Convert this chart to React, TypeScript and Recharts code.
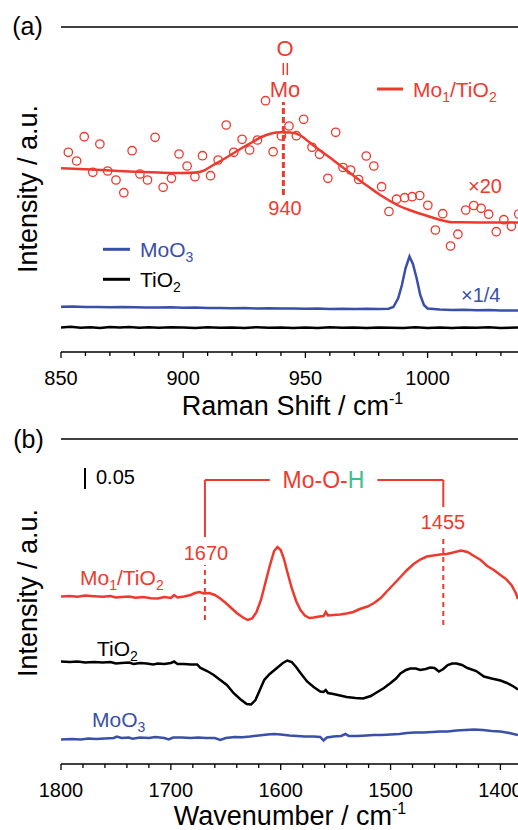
import React from 'react';
import { ComposedChart, Line, Scatter, XAxis, YAxis, ReferenceLine } from 'recharts';

const RED = '#ee3a2e';
const BLUE = '#3a50a8';
const GREEN = '#3dbe8e';
const FONT = '"Liberation Sans", Arial, Helvetica, sans-serif';

// ---- (a) Raman: [Raman shift (cm-1), intensity (a.u.)]
const ramanMo1Points = [
  [853.0, 199.7], [856.4, 191.0], [859.5, 215.3], [863.0, 179.7], [865.9, 208.0], [869.1, 181.0],
  [872.5, 172.0], [875.7, 159.3], [879.1, 201.3], [882.3, 178.0], [885.4, 172.0], [888.5, 214.7],
  [891.8, 164.7], [895.2, 173.7], [898.3, 198.0], [901.6, 186.0], [904.8, 175.3], [907.9, 196.3],
  [911.2, 176.3], [914.3, 192.0], [917.6, 227.0], [920.7, 199.7], [924.1, 212.7], [927.2, 202.0],
  [930.4, 212.0], [933.7, 251.3], [936.8, 200.3], [940.2, 216.0], [943.3, 226.0], [946.3, 216.3],
  [949.3, 232.7], [952.7, 204.7], [955.8, 197.7], [959.2, 173.7], [962.4, 219.7], [965.4, 184.5],
  [968.5, 182.0], [971.8, 172.5], [974.9, 196.0], [978.0, 186.0], [981.2, 165.3], [984.2, 140.5],
  [987.3, 152.8], [990.6, 154.3], [993.7, 155.3], [996.8, 156.5], [1000.1, 146.7], [1003.2, 122.0],
  [1006.2, 138.3], [1009.4, 106.0], [1012.4, 117.8], [1015.6, 142.0], [1018.9, 146.5], [1021.9, 143.7],
  [1025.0, 137.8], [1028.1, 120.3], [1031.2, 132.3], [1034.3, 125.7], [1037.3, 138.0],
];
const ramanMo1Fit = [
  [850, 183.7], [860, 182.7], [870, 181.5], [880, 180.3], [890, 179.5], [900, 179], [905, 179.5],
  [908, 181], [912, 186.5], [916, 192], [920, 198], [924, 204], [928, 209.5], [932, 215], [936, 218.5],
  [940, 219.8], [944, 219.5], [948, 216.5], [952, 209], [956, 201.5], [960, 194.5], [964, 187],
  [968, 179.5], [972, 172], [976, 165], [980, 158], [984, 152], [988, 146.5], [992, 142.5], [996, 139],
  [1000, 136], [1004, 133], [1008, 130.5], [1010, 129.8], [1020, 129.6], [1030, 129.5], [1037, 129.5],
];
const ramanMoO3 = [
  [850, 45.2], [855, 45.6], [860, 45.0], [865, 44.9], [870, 44.7], [875, 45.0], [880, 44.8], [885, 44.5],
  [890, 44.4], [895, 44.7], [900, 44.2], [905, 44.4], [910, 44.1], [915, 43.9], [920, 43.8], [925, 44.1],
  [930, 43.6], [935, 43.8], [940, 43.4], [945, 43.6], [950, 43.3], [955, 43.5], [960, 43.1], [965, 43.3],
  [970, 43.0], [975, 43.2], [980, 43.0], [984, 43.3], [986, 45], [988, 54], [989.5, 67], [991, 84],
  [992.6, 95.5], [994, 88], [995.5, 74], [997, 57], [998.5, 47], [1000, 43.5], [1005, 42.4], [1010, 42.0],
  [1015, 42.2], [1020, 41.8], [1025, 41.9], [1030, 41.6], [1037, 41.5],
];
const ramanTiO2 = [
  [850, 24.5], [854, 25.2], [858, 24.2], [862, 24.8], [866, 24.1], [870, 25.0], [874, 24.4], [878, 25.1],
  [882, 24.3], [886, 24.7], [890, 24.2], [895, 24.8], [900, 24.4], [905, 24.1], [910, 24.7], [915, 24.2],
  [920, 24.6], [925, 24.1], [930, 24.8], [935, 24.3], [940, 24.6], [945, 24.0], [950, 24.4], [955, 24.1],
  [960, 24.7], [965, 24.2], [970, 24.5], [975, 24.0], [980, 24.6], [985, 24.3], [990, 24.1], [995, 24.7],
  [1000, 24.0], [1005, 24.5], [1010, 24.1], [1015, 24.6], [1020, 24.2], [1025, 24.7], [1030, 24.1], [1037, 24.4],
];
const ramanTicks = [850, 860, 870, 880, 890, 900, 910, 920, 930, 940, 950, 960, 970, 980, 990, 1000, 1010, 1020, 1030];

// ---- (b) IR: [wavenumber (cm-1), intensity (a.u.)]
const irMo1 = [
  [1800, 167.5], [1792, 168], [1785, 167.2], [1778, 168.5], [1770, 167.8], [1762, 167.2], [1755, 168],
  [1750, 166.5], [1745, 167], [1738, 167.5], [1732, 166.2], [1725, 167], [1718, 165.8], [1712, 165.5],
  [1706, 167], [1700, 166], [1697, 169], [1694, 166.5], [1688, 167.5], [1682, 169], [1678, 171], [1674, 172],
  [1670, 170.5], [1665, 171], [1660, 169], [1655, 165.5], [1650, 161], [1645, 156], [1640, 151], [1635, 147],
  [1630, 144], [1626, 145.5], [1622, 152], [1618, 164], [1614, 181], [1610, 198], [1606, 213], [1603, 217],
  [1600, 214], [1597, 205], [1594, 192], [1590, 176], [1586, 163], [1582, 154], [1578, 148.5], [1574, 146],
  [1570, 146.5], [1565, 147.5], [1561, 148], [1559, 152], [1557, 148.5], [1552, 149], [1546, 149.5],
  [1540, 150.5], [1534, 152], [1528, 155], [1521, 157.5], [1515, 161], [1509, 166], [1503, 173], [1497, 180],
  [1491, 187], [1485, 194], [1479, 200], [1473, 204.5], [1467, 207.5], [1461, 208.5], [1455, 209.5],
  [1449, 210], [1443, 211.5], [1436, 213.5], [1430, 212], [1424, 208], [1418, 204], [1412, 198], [1406, 194],
  [1400, 189], [1395, 185], [1390, 179], [1386, 171], [1384, 165],
];
const irTiO2 = [
  [1800, 102.5], [1792, 102], [1785, 102.5], [1778, 101.5], [1770, 102], [1762, 101.5], [1755, 102],
  [1750, 100.5], [1745, 101], [1738, 101.5], [1734, 100], [1728, 101], [1722, 100.5], [1716, 99.5],
  [1712, 100.5], [1706, 100], [1700, 101], [1697, 102.5], [1694, 100], [1688, 100], [1682, 99.5],
  [1676, 99.5], [1673, 96], [1667, 93], [1661, 89], [1655, 84], [1649, 79], [1643, 71], [1637, 65],
  [1631, 60], [1627, 59.5], [1623, 64], [1619, 74], [1615, 84], [1610, 90], [1604, 95.5], [1598, 101],
  [1594, 103.5], [1590, 102], [1586, 97], [1582, 91], [1576, 82.5], [1570, 77], [1564, 72.5], [1561, 72],
  [1559, 74], [1557, 71], [1552, 70], [1546, 68.5], [1540, 67], [1532, 66], [1525, 65.5], [1518, 68],
  [1512, 72], [1506, 76], [1500, 81], [1495, 85.5], [1491, 90.5], [1486, 94], [1482, 95.5], [1477, 95.5],
  [1473, 94], [1468, 95], [1464, 96.5], [1460, 96], [1456, 92.5], [1452, 95], [1448, 99], [1444, 100.5],
  [1440, 100.5], [1435, 99], [1430, 96], [1422, 93], [1415, 87.5], [1408, 85.5], [1400, 83.5], [1394, 81],
  [1388, 77.5], [1384, 74.5],
];
const irMoO3 = [
  [1800, 24.5], [1790, 25], [1782, 24.5], [1775, 25.5], [1768, 25], [1760, 25.5], [1752, 26], [1749, 27.5],
  [1745, 26], [1738, 26.5], [1735, 25.2], [1728, 26.5], [1720, 26], [1714, 27], [1706, 26], [1702, 24.5],
  [1698, 26.5], [1690, 26.5], [1682, 26], [1675, 26.5], [1668, 26], [1660, 26], [1655, 24], [1650, 26],
  [1642, 27], [1635, 26.8], [1628, 27.5], [1620, 28.5], [1612, 29.5], [1606, 30], [1600, 29.5], [1592, 28.5],
  [1585, 28], [1578, 27.5], [1570, 27.5], [1564, 27], [1561, 23.5], [1558, 26.5], [1552, 27.5], [1545, 28],
  [1541, 30], [1538, 28], [1530, 28], [1522, 28.5], [1515, 29], [1508, 29], [1500, 29.5], [1492, 30],
  [1485, 31], [1478, 31.5], [1470, 31.5], [1462, 32], [1455, 32.5], [1448, 32.5], [1440, 33.5], [1432, 34],
  [1424, 34.5], [1416, 34], [1408, 33], [1400, 32.5], [1392, 31], [1384, 29],
];
const irTicks = [1800, 1780, 1760, 1740, 1720, 1700, 1680, 1660, 1640, 1620, 1600, 1580, 1560, 1540, 1520, 1500, 1480, 1460, 1440, 1420, 1400];

const rows = (arr: number[][]) => arr.map(([x, y]) => ({ x, y }));

const makeTick = (majorStep: number) => (props: any) => {
  const { x, y, payload } = props;
  const major = payload.value % majorStep === 0;
  return (
    <g>
      <line x1={x} x2={x} y1={y} y2={y + (major ? 6 : 4)} stroke="#000" strokeWidth={1.3} />
      {major && (
        <text x={x} y={y + 33} textAnchor="middle" fontSize={20} fontFamily={FONT} fill="#000">
          {payload.value}
        </text>
      )}
    </g>
  );
};

const axisLine = { stroke: '#000', strokeWidth: 1.5 };

const Circle = (p: any) => <circle cx={p.cx} cy={p.cy} r={4.2} fill="none" stroke={RED} strokeWidth={1.3} />;

// chemical formula labels with subscripts
const Mo1TiO2 = () => (
  <>
    Mo<tspan dy={5} fontSize={14}>1</tspan>
    <tspan dy={-5}>/TiO</tspan>
    <tspan dy={5} fontSize={14}>2</tspan>
  </>
);
const TiO2 = () => (
  <>
    TiO<tspan dy={5} fontSize={14}>2</tspan>
  </>
);
const MoO3 = () => (
  <>
    MoO<tspan dy={5} fontSize={14}>3</tspan>
  </>
);

export default function App() {
  return (
    <div style={{ position: 'absolute', left: 0, top: 0, width: 518, height: 830, background: '#fff', fontFamily: FONT }}>
      <div style={{ position: 'absolute', left: 0, top: 0 }}>
        <ComposedChart width={518} height={420} margin={{ top: 27, right: 0, bottom: 0, left: 61 }}>
          <XAxis type="number" dataKey="x" domain={[850, 1037]} allowDataOverflow ticks={ramanTicks} interval={0}
            tick={makeTick(50)} tickLine={false} tickSize={0} tickMargin={0} height={68} axisLine={axisLine} />
          <YAxis type="number" dataKey="y" domain={[0, 325]} allowDataOverflow width={0} tick={false} tickLine={false} axisLine={axisLine} />
          <ReferenceLine y={325} stroke="#000" strokeWidth={1.5} />
          <ReferenceLine segment={[{ x: 941, y: 157 }, { x: 941, y: 250 }]} stroke={RED} strokeWidth={3} strokeDasharray="6 3" />
          <Line data={rows(ramanTiO2)} dataKey="y" stroke="#000" strokeWidth={2.5} dot={false} isAnimationActive={false} />
          <Line data={rows(ramanMoO3)} dataKey="y" stroke={BLUE} strokeWidth={2.5} dot={false} isAnimationActive={false} />
          <Scatter data={rows(ramanMo1Points)} dataKey="y" shape={Circle} isAnimationActive={false} />
          <Line data={rows(ramanMo1Fit)} dataKey="y" type="monotone" stroke={RED} strokeWidth={2.5} dot={false} isAnimationActive={false} />
        </ComposedChart>
      </div>
      <div style={{ position: 'absolute', left: 0, top: 420 }}>
        <ComposedChart width={518} height={410} margin={{ top: 19, right: 0, bottom: 0, left: 61 }}>
          <XAxis type="number" dataKey="x" domain={[1384, 1800]} reversed allowDataOverflow ticks={irTicks} interval={0}
            tick={makeTick(100)} tickLine={false} tickSize={0} tickMargin={0} height={66} axisLine={axisLine} />
          <YAxis type="number" dataKey="y" domain={[0, 325]} allowDataOverflow width={0} tick={false} tickLine={false} axisLine={axisLine} />
          <ReferenceLine y={325} stroke="#000" strokeWidth={1.5} />
          <ReferenceLine segment={[{ x: 1669, y: 227 }, { x: 1669, y: 284 }]} stroke={RED} strokeWidth={2} />
          <ReferenceLine segment={[{ x: 1669, y: 284 }, { x: 1610, y: 284 }]} stroke={RED} strokeWidth={2} />
          <ReferenceLine segment={[{ x: 1512, y: 284 }, { x: 1452, y: 284 }]} stroke={RED} strokeWidth={2} />
          <ReferenceLine segment={[{ x: 1452, y: 284 }, { x: 1452, y: 257 }]} stroke={RED} strokeWidth={2} />
          <ReferenceLine segment={[{ x: 1669, y: 144 }, { x: 1669, y: 199 }]} stroke={RED} strokeWidth={2} strokeDasharray="5 4" />
          <ReferenceLine segment={[{ x: 1452, y: 139 }, { x: 1452, y: 229 }]} stroke={RED} strokeWidth={2} strokeDasharray="5 4" />
          <Line data={rows(irMoO3)} dataKey="y" stroke={BLUE} strokeWidth={2.5} dot={false} isAnimationActive={false} />
          <Line data={rows(irTiO2)} dataKey="y" stroke="#000" strokeWidth={2.5} dot={false} isAnimationActive={false} />
          <Line data={rows(irMo1)} dataKey="y" stroke={RED} strokeWidth={2.5} dot={false} isAnimationActive={false} />
        </ComposedChart>
      </div>
      <svg width={518} height={830} style={{ position: 'absolute', left: 0, top: 0, pointerEvents: 'none' }} fontFamily={FONT}>
        {/* panel (a) */}
        <text x={27.5} y={35} textAnchor="middle" fontSize={25}>(a)</text>
        <text transform="translate(36.5,189) rotate(-90)" textAnchor="middle" fontSize={27}>Intensity / a.u.</text>
        <text x={292.5} y={415} textAnchor="middle" fontSize={27}>
          Raman Shift / cm<tspan dy={-11} fontSize={16}>-1</tspan>
        </text>
        <text x={285} y={56} textAnchor="middle" fontSize={22} fill={RED}>O</text>
        <line x1={283.3} x2={283.3} y1={63} y2={75} stroke={RED} strokeWidth={1.5} />
        <line x1={287.3} x2={287.3} y1={63} y2={75} stroke={RED} strokeWidth={1.5} />
        <text x={285} y={96.5} textAnchor="middle" fontSize={22} fill={RED}>Mo</text>
        <text x={285} y={215} textAnchor="middle" fontSize={20} fill={RED}>940</text>
        <line x1={377} x2={403} y1={89} y2={89} stroke={RED} strokeWidth={3} />
        <text x={413} y={96.5} fontSize={21} fill={RED}><Mo1TiO2 /></text>
        <text x={468} y={193} fontSize={20} fill={RED}>×20</text>
        <line x1={103} x2={130} y1={249.3} y2={249.3} stroke={BLUE} strokeWidth={3} />
        <text x={140} y={257} fontSize={21} fill={BLUE}><MoO3 /></text>
        <line x1={103} x2={130} y1={279.3} y2={279.3} stroke="#000" strokeWidth={3} />
        <text x={140} y={287} fontSize={21}><TiO2 /></text>
        <text x={461} y={301.5} fontSize={20} fill={BLUE}>×1/4</text>

        {/* panel (b) */}
        <text x={28.5} y={448} textAnchor="middle" fontSize={25}>(b)</text>
        <text transform="translate(36.5,593) rotate(-90)" textAnchor="middle" fontSize={27}>Intensity / a.u.</text>
        <text x={290} y={825} textAnchor="middle" fontSize={27}>
          Wavenumber / cm<tspan dy={-11} fontSize={16}>-1</tspan>
        </text>
        <line x1={85} x2={85} y1={468} y2={489} stroke="#000" strokeWidth={2} />
        <text x={96} y={483.5} fontSize={20}>0.05</text>
        <text x={323.5} y={488} textAnchor="middle" fontSize={23} fill={RED}>
          Mo-O-<tspan fill={GREEN}>H</tspan>
        </text>
        <text x={206} y={560} textAnchor="middle" fontSize={20} fill={RED}>1670</text>
        <text x={443} y={528.5} textAnchor="middle" fontSize={20} fill={RED}>1455</text>
        <text x={80} y={585} fontSize={21} fill={RED}><Mo1TiO2 /></text>
        <text x={97} y={656} fontSize={21}><TiO2 /></text>
        <text x={92} y={726.5} fontSize={21} fill={BLUE}><MoO3 /></text>
      </svg>
    </div>
  );
}
